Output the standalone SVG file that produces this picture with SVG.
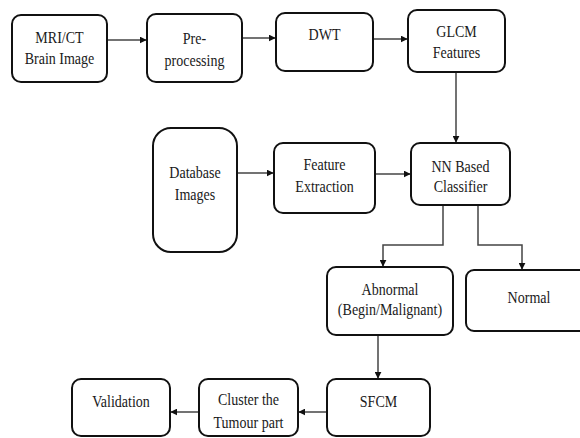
<svg xmlns="http://www.w3.org/2000/svg" width="580" height="438" viewBox="0 0 580 438">
<defs>
<marker id="ah" viewBox="0 0 10 10" refX="9" refY="5" markerWidth="7" markerHeight="7" markerUnits="userSpaceOnUse" orient="auto">
<path d="M0,0 L10,5 L0,10 z" fill="#111"/>
</marker>
<style>
.box{fill:#fff;stroke:#111;stroke-width:2}
.t{font-family:"Liberation Serif","Times New Roman",serif;font-size:16.5px;fill:#1a1a1a;text-anchor:middle}
.c{fill:none;stroke:#444;stroke-width:1.5}
</style>
</defs>
<rect width="580" height="438" fill="#fff"/>
<g id="connectors">
<path class="c" d="M107,40 H146" marker-end="url(#ah)"/>
<path class="c" d="M242,38 H275" marker-end="url(#ah)"/>
<path class="c" d="M373,39 H407" marker-end="url(#ah)"/>
<path class="c" d="M456,72 V142" marker-end="url(#ah)"/>
<path class="c" d="M237,173 H273" marker-end="url(#ah)"/>
<path class="c" d="M375,174 H410" marker-end="url(#ah)"/>
<path class="c" d="M443,205 V245 H383 V266" marker-end="url(#ah)"/>
<path class="c" d="M478,205 V245 H522 V269" marker-end="url(#ah)"/>
<path class="c" d="M378,335 V378" marker-end="url(#ah)"/>
<path class="c" d="M327,412 H299" marker-end="url(#ah)"/>
<path class="c" d="M199,412 H171" marker-end="url(#ah)"/>
</g>
<g id="mri">
<rect class="box" x="12" y="15" width="95" height="67" rx="9"/>
<text class="t" transform="translate(59.5,43) scale(0.85,1)">MRI/CT</text>
<text class="t" transform="translate(59.5,64) scale(0.85,1)">Brain Image</text>
</g>
<g id="preprocessing">
<rect class="box" x="147" y="14" width="95" height="68" rx="9"/>
<text class="t" transform="translate(194.5,44) scale(0.85,1)">Pre-</text>
<text class="t" transform="translate(194.5,66) scale(0.85,1)">processing</text>
</g>
<g id="dwt">
<rect class="box" x="276" y="13" width="97" height="58" rx="9"/>
<text class="t" transform="translate(324.5,40) scale(0.85,1)">DWT</text>
</g>
<g id="glcm">
<rect class="box" x="408" y="10" width="97" height="62" rx="9"/>
<text class="t" transform="translate(456.5,37) scale(0.85,1)">GLCM</text>
<text class="t" transform="translate(456.5,58) scale(0.85,1)">Features</text>
</g>
<g id="database">
<rect class="box" x="153" y="128" width="84" height="124" rx="18"/>
<text class="t" transform="translate(195,178) scale(0.85,1)">Database</text>
<text class="t" transform="translate(195,200) scale(0.85,1)">Images</text>
</g>
<g id="feature">
<rect class="box" x="274" y="143" width="101" height="70" rx="9"/>
<text class="t" transform="translate(324.5,170) scale(0.85,1)">Feature</text>
<text class="t" transform="translate(324.5,192) scale(0.85,1)">Extraction</text>
</g>
<g id="nn">
<rect class="box" x="411" y="143" width="99" height="62" rx="9"/>
<text class="t" transform="translate(460.5,172) scale(0.85,1)">NN Based</text>
<text class="t" transform="translate(460.5,192) scale(0.85,1)">Classifier</text>
</g>
<g id="abnormal">
<rect class="box" x="327" y="267" width="126" height="68" rx="9"/>
<text class="t" transform="translate(390,295) scale(0.85,1)">Abnormal</text>
<text class="t" transform="translate(390,315) scale(0.85,1)">(Begin/Malignant)</text>
</g>
<g id="normal">
<rect class="box" x="466" y="270" width="122" height="61" rx="8"/>
<text class="t" transform="translate(529,303) scale(0.85,1)">Normal</text>
</g>
<g id="sfcm">
<rect class="box" x="327" y="379" width="103" height="57" rx="9"/>
<text class="t" transform="translate(378.5,407) scale(0.85,1)">SFCM</text>
</g>
<g id="cluster">
<rect class="box" x="199" y="379" width="99" height="57" rx="9"/>
<text class="t" transform="translate(248.5,405) scale(0.85,1)">Cluster the</text>
<text class="t" transform="translate(248.5,428) scale(0.85,1)">Tumour part</text>
</g>
<g id="validation">
<rect class="box" x="72" y="379" width="98" height="57" rx="9"/>
<text class="t" transform="translate(121,407) scale(0.85,1)">Validation</text>
</g>
</svg>
